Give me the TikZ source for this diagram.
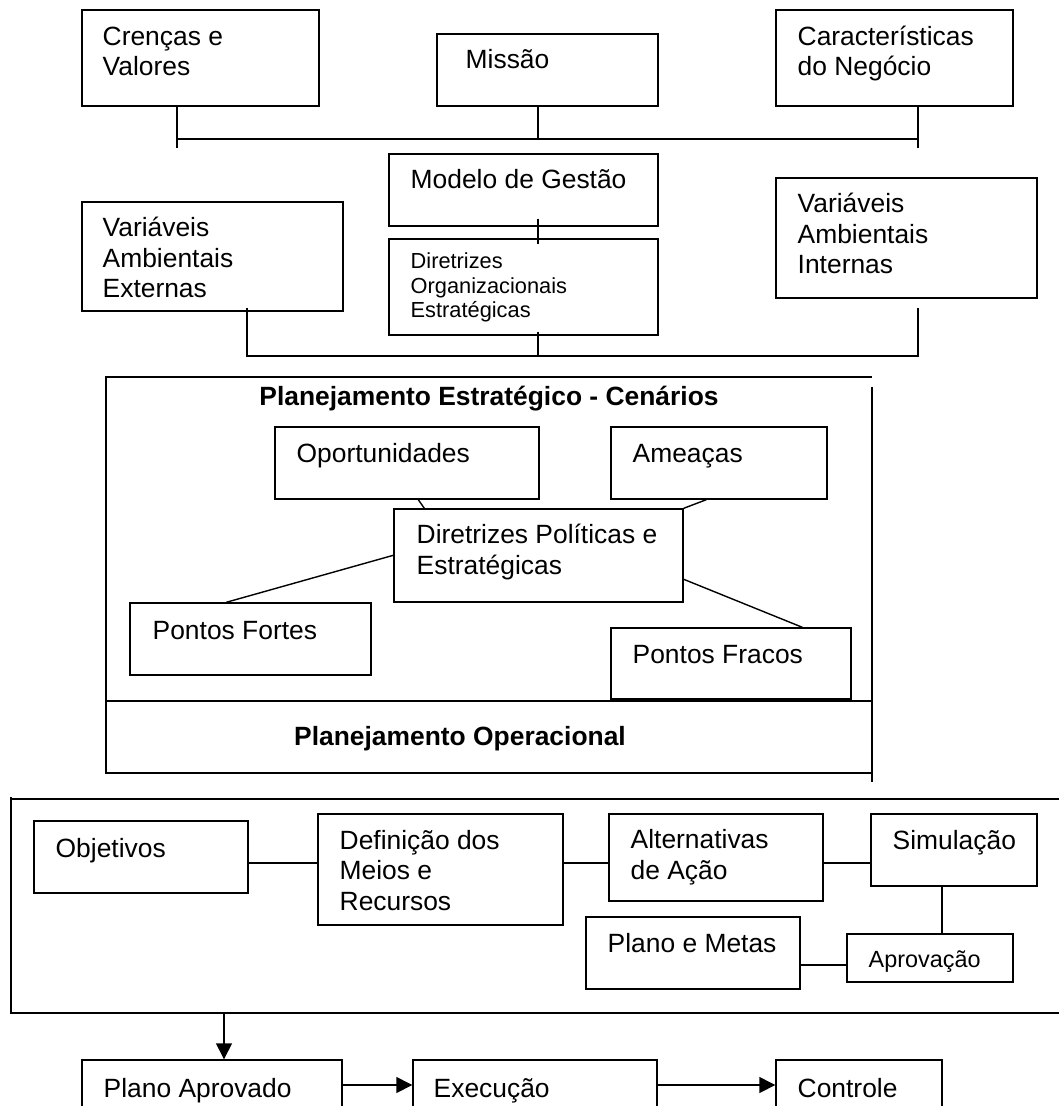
\documentclass[tikz,border=0pt]{standalone}
\usepackage{fontspec}
\setmainfont{Liberation Sans}
\usetikzlibrary{fit,calc,arrows.meta}
\begin{document}
\begin{tikzpicture}[x=0.5pt,y=-0.5pt,line width=0.7pt,
  bx/.style={draw,inner sep=0pt,line width=0.7pt},
  txt/.style={anchor=base west,inner sep=0pt,align=left,font=\fontsize{13.2}{15.25}\selectfont},
  stxt/.style={anchor=base west,inner sep=0pt,align=left,font=\fontsize{10.9}{12.25}\selectfont},
  atxt/.style={anchor=base west,inner sep=0pt,align=left,font=\fontsize{11.7}{13.5}\selectfont},
  btxt/.style={anchor=base,inner sep=0pt,font=\fontsize{13.2}{15.25}\selectfont\bfseries},
  arr/.style={-{Triangle[length=8pt,width=8pt]}}]
\clip (0,0) rectangle (1059,1106);
\useasboundingbox (0,0) rectangle (1059,1106);
% boxes
\node[bx,fit={(82,10)(319,106)}] (cren) {};
\node[bx,fit={(437,34)(658,106)}] (missao) {};
\node[bx,fit={(776,10)(1013,106)}] (carac) {};
\node[bx,fit={(389,154)(658,226)}] (modelo) {};
\node[bx,fit={(389,239)(658,335)}] (dirorg) {};
\node[bx,fit={(82,202)(343,311)}] (vext) {};
\node[bx,fit={(776,178)(1037,298)}] (vint) {};
\node[bx,fit={(275,427)(539,499)}] (oport) {};
\node[bx,fit={(611,427)(827,499)}] (ameacas) {};
\node[bx,fit={(394,509)(683,602)}] (dirpol) {};
\node[bx,fit={(130,603)(371,675)}] (fortes) {};
\node[bx,fit={(611,628)(851,699)}] (fracos) {};
\node[bx,fit={(34,821)(248,893)}] (objet) {};
\node[bx,fit={(318,814)(563,925)}] (defin) {};
\node[bx,fit={(609,814)(823,901)}] (altern) {};
\node[bx,fit={(871,814)(1037,886)}] (simul) {};
\node[bx,fit={(586,917)(800,989)}] (metas) {};
\node[bx,fit={(847,934)(1013,982)}] (aprov) {};
\node[bx,fit={(82,1060)(342,1130)}] (planoap) {};
\node[bx,fit={(413,1060)(657,1130)}] (exec) {};
\node[bx,fit={(776,1060)(942,1130)}] (contr) {};
% texts (multi-line: anchored at the baseline of the last line)
\node[txt] (cren-t) at (102,76) {Crenças e\\Valores};
\node[txt] (missao-t) at (465,69) {Missão};
\node[txt] (carac-t) at (797,76) {Características\\do Negócio};
\node[txt] (modelo-t) at (410,189) {Modelo de Gestão};
\node[stxt] (dirorg-t) at (410,318) {Diretrizes\\Organizacionais\\Estratégicas};
\node[txt] (vext-t) at (102,298) {Variáveis\\Ambientais\\Externas};
\node[txt] (vint-t) at (797,274) {Variáveis\\Ambientais\\Internas};
\node[btxt] (pe-t) at (489,405) {Planejamento Estratégico - Cenários};
\node[txt] (oport-t) at (296,462) {Oportunidades};
\node[txt] (ameacas-t) at (632,462) {Ameaças};
\node[txt] (dirpol-t) at (416,574) {Diretrizes Políticas e\\Estratégicas};
\node[txt] (fortes-t) at (152,639) {Pontos Fortes};
\node[txt] (fracos-t) at (632,663) {Pontos Fracos};
\node[btxt] (po-t) at (460,745) {Planejamento Operacional};
\node[txt] (objet-t) at (55,857) {Objetivos};
\node[txt] (defin-t) at (339,910) {Definição dos\\Meios e\\Recursos};
\node[txt] (altern-t) at (630,879) {Alternativas\\de Ação};
\node[txt] (simul-t) at (892,849) {Simulação};
\node[txt] (metas-t) at (607,952) {Plano e Metas};
\node[atxt] (aprov-t) at (868,967) {Aprovação};
\node[txt] (planoap-t) at (103,1097) {Plano Aprovado};
\node[txt] (exec-t) at (433,1097) {Execução};
\node[txt] (contr-t) at (797,1097) {Controle};
% top bus
\coordinate (tbL) at (177,139);
\coordinate (tbR) at (918,139);
\coordinate (tbM) at (538,139);
\draw (cren.south -| tbL) -- ($(tbL)+(0,9)$);
\draw (tbL) -- (tbR);
\draw (missao.south -| tbM) -- (tbM);
\draw (carac.south -| tbR) -- ($(tbR)+(0,9)$);
\draw ($(modelo.south -| tbM)+(0,-8)$) -- ($(dirorg.north -| tbM)+(0,6)$);
% lower bus
\coordinate (bbL) at (247,356);
\coordinate (bbR) at (918,356);
\draw ($(vext.south -| bbL)+(0,-4)$) -- (bbL) -- (bbR) -- ($(vint.south -| bbR)+(0,9)$);
\draw ($(dirorg.south -| tbM)+(0,-4)$) -- (tbM |- bbL);
% strategic frame
\draw (105,377) -- (872,377);
\draw (106,377) -- (106,773) -- (872,773);
\draw (872,387) -- (872,782);
\draw (106,701) -- (872,701);
% strategic connectors
\draw ($(oport.south west)+(144,0)$) -- ($(dirpol.north west)+(31,0)$);
\draw ($(ameacas.south west)+(96,0)$) -- (dirpol.north east);
\draw ($(dirpol.north west)+(0,47)$) -- ($(fortes.north west)+(97,0)$);
\draw ($(dirpol.north east)+(0,71)$) -- ($(fracos.north west)+(192,0)$);
% operational frame
\draw (1059,799) -- (11,799);
\draw (11,797) -- (11,1013) -- (1059,1013);
% operational connectors
\coordinate (r1) at (0,863);
\draw (objet.east |- r1) -- (defin.west |- r1);
\draw (defin.east |- r1) -- (altern.west |- r1);
\draw (altern.east |- r1) -- (simul.west |- r1);
\coordinate (sx) at (942,0);
\draw (simul.south -| sx) -- (aprov.north -| sx);
\coordinate (r2) at (0,965);
\draw (metas.east |- r2) -- (aprov.west |- r2);
% arrows
\coordinate (ax) at (224,1013);
\draw[arr] (ax) -- (planoap.north -| ax);
\coordinate (r3) at (0,1085);
\draw[arr] (planoap.east |- r3) -- (exec.west |- r3);
\draw[arr] (exec.east |- r3) -- (contr.west |- r3);
\end{tikzpicture}
\end{document}
